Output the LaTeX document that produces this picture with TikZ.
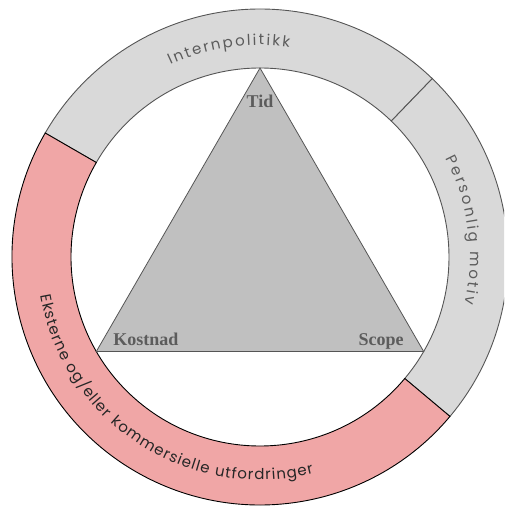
\documentclass[tikz,border=0pt]{standalone}
\usepackage{fontspec}
\usepackage{xcolor}
\usepackage{tikz}
\usetikzlibrary{positioning,calc,decorations.text}
\newfontfamily\ringfont{Poppins}
\newfontfamily\cornerfont{Liberation Serif}
\definecolor{ringgray}{RGB}{217,217,217}
\definecolor{ringred}{RGB}{240,166,166}
\definecolor{trigray}{RGB}{192,192,192}
\definecolor{labelgray}{RGB}{92,92,92}
\definecolor{edgegray}{RGB}{85,85,85}

\begin{document}
\begin{tikzpicture}[x=1pt, y=1pt,
  corner/.style={font=\cornerfont\fontsize{18}{18}\selectfont\bfseries,
                 text=labelgray, inner sep=0pt, anchor=base},
  ringtext/.style={decorate, decoration={text along path, text align=fit to path,
                   text={#1}}}]
  \useasboundingbox (-260,-249) rectangle (244,257);
  \clip (-260,-249) rectangle (244,257);
  \def\ri{189} \def\ro{248}
  % Ring sectors
  \foreach \a/\b/\col/\edge in {46/150/ringgray/edgegray, -40/46/ringgray/edgegray,
                                150/320/ringred/black}{
    \filldraw[fill=\col, draw=\edge, line width=0.9pt]
      (\a:\ro) arc[start angle=\a, end angle=\b, radius=\ro]
      -- (\b:\ri) arc[start angle=\b, end angle=\a, radius=\ri] -- cycle;
  }
  % Ring labels
  \begin{scope}
    \ringfont\fontsize{15}{15}\selectfont
    \path[ringtext={|\color{labelgray}|Internpolitikk}]
      plot[domain=115:82, samples=40] ({212*cos(\x)}, {212*sin(\x)});
    \path[ringtext={|\color{labelgray}|Personlig motiv}]
      plot[domain=28:-13, samples=40] ({210*cos(\x)}, {210*sin(\x)});
    \path[ringtext={|\color{black!85}|Eksterne og/eller kommersielle utfordringer}]
      plot[domain=190:284, samples=90] ({223*cos(\x)}, {223*sin(\x)});
  \end{scope}
  % Triangle
  \coordinate (tip) at (90:\ri);
  \coordinate (left) at (210:\ri);
  \coordinate (right) at (330:\ri);
  \filldraw[fill=trigray, draw=edgegray, line width=0.8pt] (tip) -- (left) -- (right) -- cycle;
  \draw[edgegray, line width=1.4pt] (left) -- (right);
  \node[corner] (tid) at (0,149) {Tid};
  \node[corner] (kostnad) at (-114,-88) {Kostnad};
  \node[corner] (scope) at (121,-88) {Scope};
\end{tikzpicture}
\end{document}
